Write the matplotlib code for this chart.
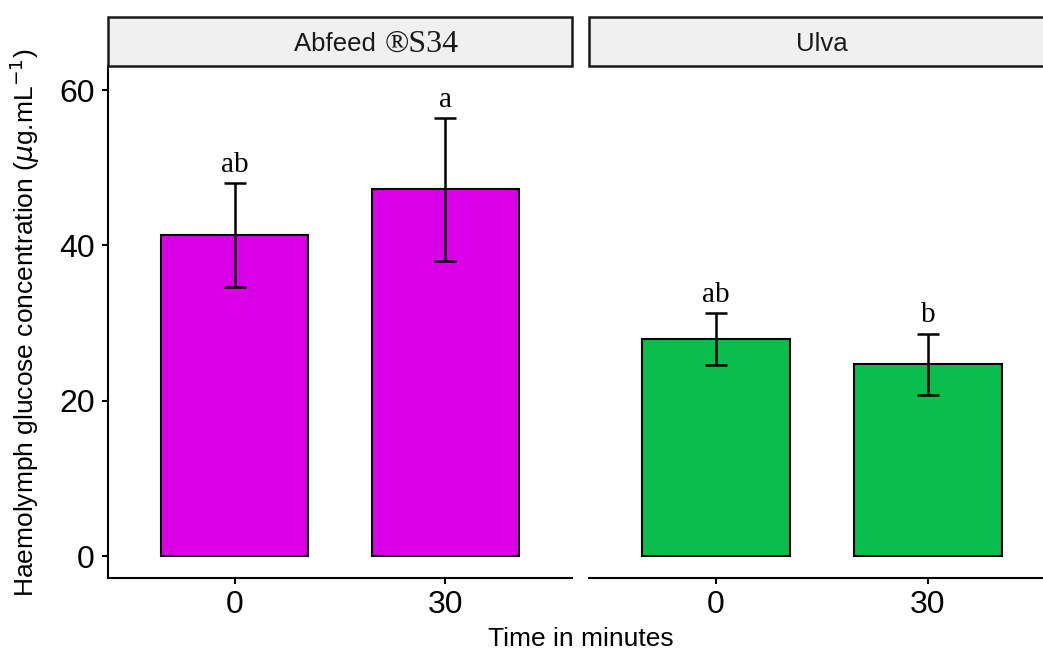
import matplotlib
matplotlib.use("Agg")
import matplotlib.pyplot as plt
from matplotlib.patches import Rectangle

# ---- data ----
panels = ["Abfeed", "Ulva"]
times = ["0", "30"]
abfeed_means = [41.3, 47.2]
abfeed_err = [6.7, 9.2]
ulva_means = [27.9, 24.7]
ulva_err = [3.35, 3.95]
abfeed_letters = ["ab", "a"]
ulva_letters = ["ab", "b"]
y_ticks = [0, 20, 40, 60]

means = [abfeed_means, ulva_means]
errs = [abfeed_err, ulva_err]
letters = [abfeed_letters, ulva_letters]
colors = ["#DA00E6", "#0ABD4D"]

W, H = 1043, 652
fig = plt.figure(figsize=(W / 100, H / 100), dpi=100)

def fx(px):
    return px / W

def fy(py):
    return 1 - py / H

panel_x = [(108, 572), (589, 1055)]
top, bottom = 66, 578
strip_top = 17
sans = "Liberation Sans"
serif = "Liberation Serif"

for i in range(2):
    x0, x1 = panel_x[i]
    ax = fig.add_axes([fx(x0), fy(bottom), fx(x1 - x0), (bottom - top) / H])
    pos = [1, 2]
    ax.bar(pos, means[i], width=0.7, color=colors[i], edgecolor="black",
           linewidth=1.5, zorder=2)
    ax.errorbar(pos, means[i], yerr=errs[i], fmt="none", ecolor="black",
                elinewidth=1.8, capsize=8, capthick=1.8, zorder=3)
    for p, m, e, lab in zip(pos, means[i], errs[i], letters[i]):
        ax.text(p, m + e + 0.7, lab, ha="center", va="bottom",
                fontsize=21, family=serif)
    ax.set_xlim(0.4, 2.6)
    ax.set_ylim(-2.83, 63.1)
    ax.set_xticks(pos)
    ax.set_xticklabels(times, fontsize=23, family=sans)
    for s in ["top", "right"]:
        ax.spines[s].set_visible(False)
    ax.spines["bottom"].set_linewidth(1.5)
    ax.tick_params(axis="x", length=4.5, width=1.5, pad=4)
    if i == 0:
        ax.spines["left"].set_linewidth(1.5)
        ax.set_yticks(y_ticks)
        ax.set_yticklabels([str(v) for v in y_ticks], fontsize=23, family=sans)
        ax.tick_params(axis="y", length=4.5, width=1.5, pad=5)
    else:
        ax.spines["left"].set_visible(False)
        ax.set_yticks([])
    ax.patch.set_alpha(0)

    # strip
    sax = fig.add_axes([fx(x0), fy(top), fx(x1 - x0), (top - strip_top) / H])
    sax.set_xlim(0, 1)
    sax.set_ylim(0, 1)
    sax.axis("off")
    sax.add_patch(Rectangle((0, 0), 1, 1, transform=sax.transAxes,
                            facecolor="#F0F0F0", edgecolor="#1a1a1a",
                            linewidth=1.8, clip_on=False))

# strip labels
fig.text(fx(383), fy(44), "Abfeed ", ha="right", va="center",
         fontsize=18.5, family=sans, color="#1a1a1a")
fig.text(fx(385), fy(44), "®S34", ha="left", va="center",
         fontsize=23, family=serif, color="#1a1a1a")
fig.text(fx(822), fy(44), "Ulva", ha="center", va="center",
         fontsize=18.5, family=sans, color="#1a1a1a")

fig.text(fx(581), fy(639), "Time in minutes", ha="center", va="center",
         fontsize=19, family=sans)
fig.text(fx(25), fy(323), r"Haemolymph glucose concentration ($\mu$g.mL$^{-1}$)",
         ha="center", va="center", rotation=90, fontsize=19, family=sans)

fig.savefig("out.png", dpi=100)
